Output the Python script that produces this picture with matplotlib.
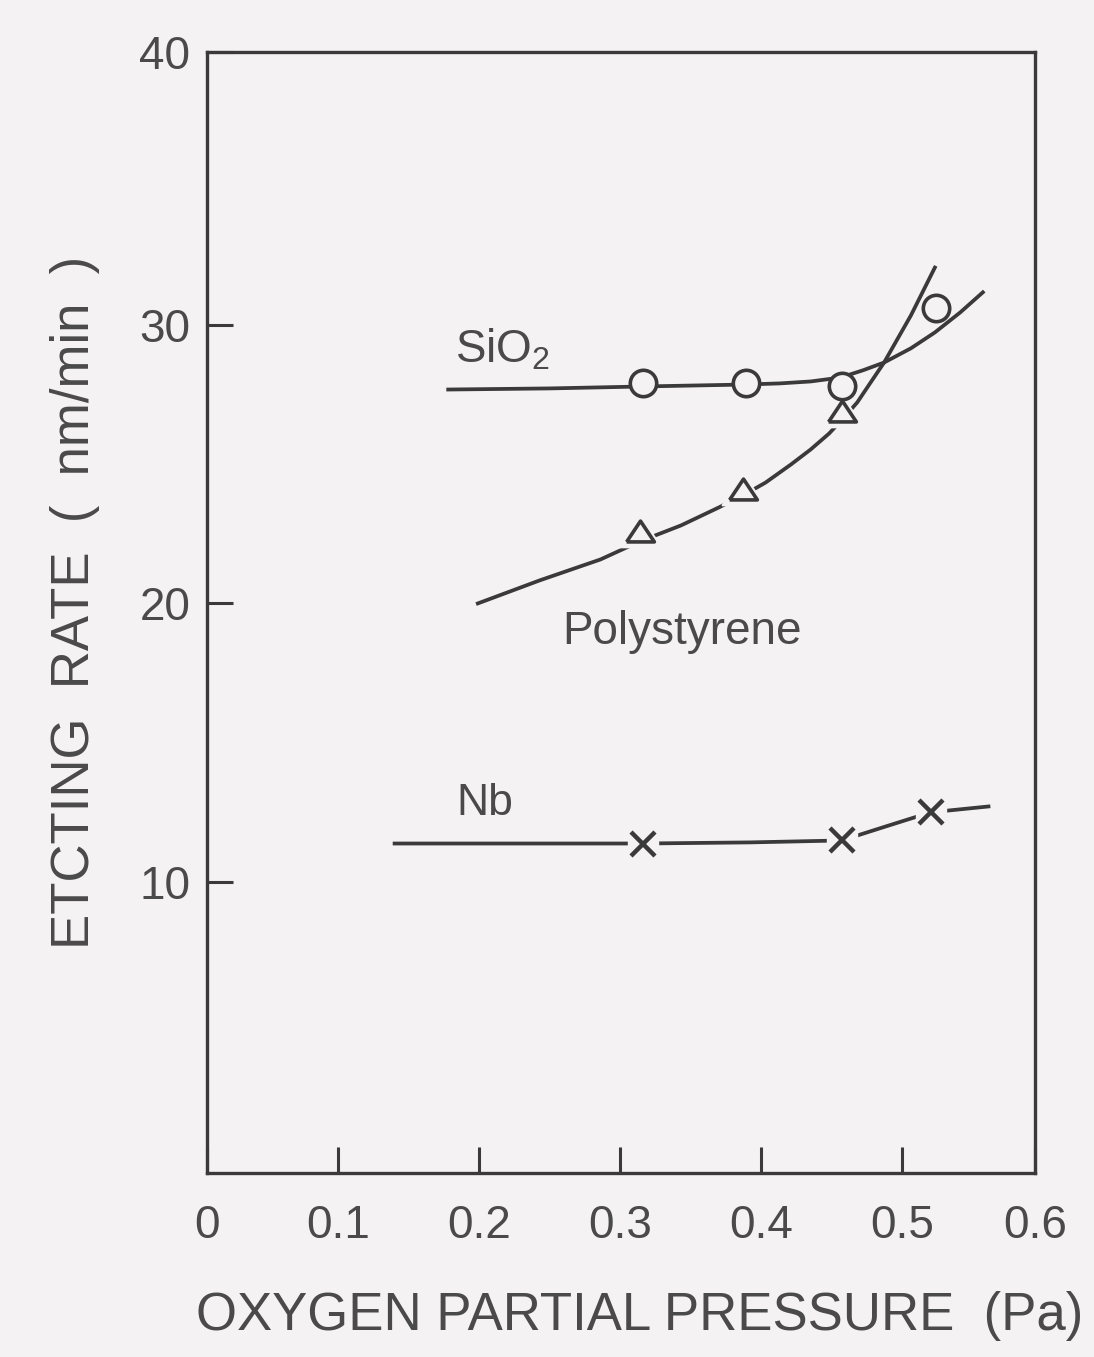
import matplotlib
matplotlib.use("Agg")
import matplotlib.pyplot as plt

# values
sio2_x = [0.316, 0.389, 0.457, 0.524]
sio2_y = [27.9, 27.9, 27.8, 30.6]
sio2_curve_x = [0.178, 0.250, 0.316, 0.389, 0.413, 0.435, 0.456, 0.472, 0.487, 0.506, 0.523, 0.541, 0.557]
sio2_curve_y = [27.68, 27.72, 27.79, 27.86, 27.90, 27.97, 28.11, 28.37, 28.65, 29.16, 29.73, 30.45, 31.17]

poly_x = [0.314, 0.387, 0.457]
poly_y = [22.6, 24.1, 26.9]
poly_curve_x = [0.199, 0.243, 0.286, 0.314, 0.343, 0.370, 0.387, 0.403, 0.421, 0.435,
                0.448, 0.458, 0.468, 0.477, 0.487, 0.506, 0.523]
poly_curve_y = [20.00, 20.83, 21.58, 22.23, 22.80, 23.45, 23.88, 24.34, 24.99, 25.53,
                26.10, 26.64, 27.22, 27.90, 28.65, 30.34, 32.06]

nb_x = [0.316, 0.457, 0.520]
nb_y = [11.38, 11.49, 12.50]
nb_curve_x = [0.140, 0.229, 0.316, 0.392, 0.457, 0.488, 0.520, 0.561]
nb_curve_y = [11.38, 11.38, 11.38, 11.42, 11.49, 11.99, 12.50, 12.71]

xtick_pos = [0.007, 0.1, 0.2, 0.3, 0.4, 0.5, 0.594]
xtick_lab = ["0", "0.1", "0.2", "0.3", "0.4", "0.5", "0.6"]
ytick_pos = [10, 20, 30, 39.8]
ytick_lab = ["10", "20", "30", "40"]

bg = "#f4f2f2"
ink = "#3a3a3a"
txt = "#4a4a4a"

plt.rcParams["font.family"] = ["Liberation Sans", "DejaVu Sans"]
plt.rcParams["mathtext.fontset"] = "custom"
plt.rcParams["mathtext.rm"] = "Liberation Sans"

fig = plt.figure(figsize=(10.94, 13.57), dpi=100, facecolor=bg)
ax = fig.add_axes([0.1892, 0.1356, 0.7569, 0.8261])
ax.set_facecolor(bg)
ax.set_xlim(0.007, 0.594)
ax.set_ylim(-0.45, 39.8)

for s in ax.spines.values():
    s.set_color(ink)
    s.set_linewidth(2.4)

ax.set_xticks(xtick_pos)
ax.set_xticklabels(xtick_lab)
ax.set_yticks(ytick_pos)
ax.set_yticklabels(ytick_lab)
ax.tick_params(axis="both", direction="in", length=19, width=2.2, color=ink,
               labelsize=33, labelcolor=txt)
ax.tick_params(axis="x", pad=22)
ax.tick_params(axis="y", pad=12)

tri = [(-1, -0.75), (1, -0.75), (0, 0.75), (-1, -0.75)]

# curves
ax.plot(sio2_curve_x, sio2_curve_y, color=ink, lw=2.7, zorder=2)
ax.plot(poly_curve_x, poly_curve_y, color=ink, lw=2.7, zorder=2)
ax.plot(nb_curve_x, nb_curve_y, color=ink, lw=2.7, zorder=2)

# gaps round the markers
ax.plot(poly_x, poly_y, ls="none", marker=tri, ms=31, mfc=bg, mec=bg, zorder=3)
ax.plot(nb_x, nb_y, ls="none", marker="s", ms=22, mfc=bg, mec=bg, zorder=3)

# markers
ax.plot(sio2_x, sio2_y, ls="none", marker="o", ms=19, mfc=bg, mec=ink, mew=2.6, zorder=4)
ax.plot(poly_x, poly_y, ls="none", marker=tri, ms=20, mfc=bg, mec=ink, mew=2.6, zorder=4)
ax.plot(nb_x, nb_y, ls="none", marker="x", ms=17, mec=ink, mew=3.2, zorder=4)

ax.text(0.183, 28.65, r"SiO$_{\mathrm{2}}$", fontsize=33, color=txt)
ax.text(0.259, 18.56, "Polystyrene", fontsize=33, color=txt)
ax.text(0.184, 12.39, "Nb", fontsize=32, color=txt)

fig.text(0.5850, 0.0199, "OXYGEN PARTIAL PRESSURE  (Pa)", fontsize=38, color=txt,
         ha="center", va="baseline")
fig.text(0.0686, 0.5564, "ETCTING  RATE  (  nm/min  )", fontsize=38, color=txt,
         ha="center", va="center", rotation=90)

fig.savefig("out.png", dpi=100, facecolor=bg)
